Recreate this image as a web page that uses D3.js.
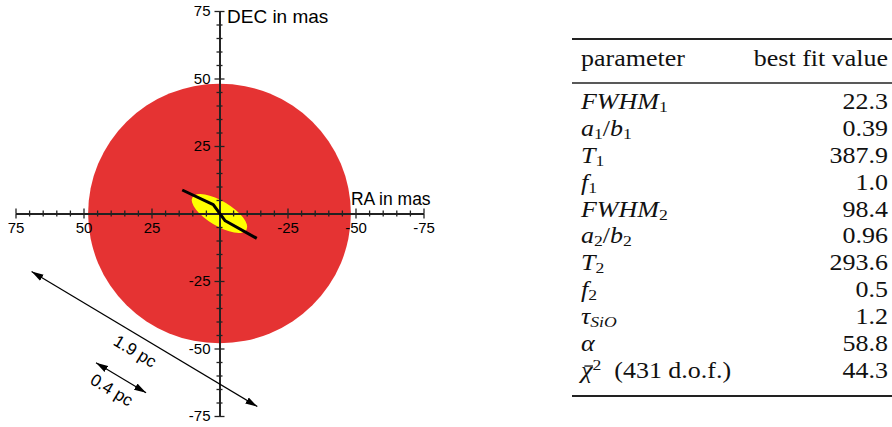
<!DOCTYPE html>
<html><head><meta charset="utf-8">
<script src="https://cdn.jsdelivr.net/npm/d3@7"></script>
<style>body{margin:0;background:#fff}svg{display:block}</style>
</head><body>
<svg id="c" width="892" height="427"></svg>
<script>
// ---- data ----
const majorTicks = [75, 50, 25, -25, -50, -75];
const minorTicks = [70,65,60,55,45,40,35,30,20,15,10,5,0,-5,-10,-15,-20,-30,-35,-40,-45,-55,-60,-65,-70];
const compNames = ["outer", "inner"];
const compSemiMajor = [48.3, 11.6];     // mas
const compAxisRatio = [0.988, 0.39];
const compPA = [90, 58.8];              // deg, N through E
const compColors = ["#e53333", "#ffff00"];
const lineRA = [13.7, 2.3, -2.1, -13.7];
const lineDEC = [8.7, 3.3, -2.7, -9.2];
const barLabels = ["1.9 pc", "0.4 pc"];
const barFromRA = [69.1, 45.4], barFromDEC = [-21.5, -55.3];
const barToRA = [-13.9, 27.0], barToDEC = [-71.5, -66.4];
const paramNames = [
  [["FWHM","i"],["1","sub"]],
  [["a","i"],["1","sub"],["/","r"],["b","i"],["1","sub"]],
  [["T","i"],["1","sub"]],
  [["f","i"],["1","sub"]],
  [["FWHM","i"],["2","sub"]],
  [["a","i"],["2","sub"],["/","r"],["b","i"],["2","sub"]],
  [["T","i"],["2","sub"]],
  [["f","i"],["2","sub"]],
  [["τ","i"],["SiO","subi"]],
  [["α","i"]],
  [["χ","ibar"],["2","sup"],["  (431 d.o.f.)","r"]]
];
const paramValues = ["22.3","0.39","387.9","1.0","98.4","0.96","293.6","0.5","1.2","58.8","44.3"];
const header = ["parameter", "best fit value"];

// ---- chart ----
const svg = d3.select("#c");
const x = d3.scaleLinear().domain([75, -75]).range([15.5, 423.5]);
const y = d3.scaleLinear().domain([75, -75]).range([11, 416]);
const k = Math.abs(x(1) - x(0));
const cx = x(0), cy = y(0);

const g = svg.append("g");
compNames.forEach((n, i) => {
  g.append("ellipse")
    .attr("cx", cx).attr("cy", cy)
    .attr("rx", compSemiMajor[i] * k)
    .attr("ry", compSemiMajor[i] * compAxisRatio[i] * k)
    .attr("transform", `rotate(${90 - compPA[i]},${cx},${cy})`)
    .attr("fill", compColors[i]);
});

const axisCol = "#222";
const sans = "Liberation Sans, Arial, sans-serif";
function styleAxis(sel) {
  sel.selectAll("path.domain").attr("stroke", axisCol).attr("stroke-width", 1.3);
  sel.selectAll(".tick line").attr("stroke", axisCol).attr("stroke-width", 1.3);
  sel.selectAll(".tick text").attr("fill", "#000").style("font-family", sans).style("font-size", "15px");
}
const fmt = d => String(d);
g.append("g").attr("transform", `translate(0,${cy})`)
  .call(d3.axisBottom(x).tickValues(majorTicks).tickSize(5).tickSizeOuter(0).tickPadding(4).tickFormat(fmt)).call(styleAxis);
g.append("g").attr("transform", `translate(0,${cy})`)
  .call(d3.axisTop(x).tickValues(majorTicks).tickSize(5).tickSizeOuter(0).tickFormat("")).call(styleAxis);
g.append("g").attr("transform", `translate(0,${cy})`)
  .call(d3.axisBottom(x).tickValues(minorTicks).tickSize(3).tickSizeOuter(0).tickFormat("")).call(styleAxis);
g.append("g").attr("transform", `translate(0,${cy})`)
  .call(d3.axisTop(x).tickValues(minorTicks).tickSize(3).tickSizeOuter(0).tickFormat("")).call(styleAxis);
g.append("g").attr("transform", `translate(${cx},0)`)
  .call(d3.axisLeft(y).tickValues(majorTicks).tickSize(5).tickSizeOuter(0).tickPadding(4).tickFormat(fmt)).call(styleAxis);
g.append("g").attr("transform", `translate(${cx},0)`)
  .call(d3.axisRight(y).tickValues(majorTicks).tickSize(5).tickSizeOuter(0).tickFormat("")).call(styleAxis);
g.append("g").attr("transform", `translate(${cx},0)`)
  .call(d3.axisLeft(y).tickValues(minorTicks).tickSize(3).tickSizeOuter(0).tickFormat("")).call(styleAxis);
g.append("g").attr("transform", `translate(${cx},0)`)
  .call(d3.axisRight(y).tickValues(minorTicks).tickSize(3).tickSizeOuter(0).tickFormat("")).call(styleAxis);

const pts = lineRA.map((r, i) => [x(r), y(lineDEC[i])]);
g.append("path").attr("d", d3.line()(pts)).attr("fill", "none")
  .attr("stroke", "#000").attr("stroke-width", 3).attr("stroke-linejoin", "round");

g.append("text").attr("x", cx + 7.5).attr("y", 23).text("DEC in mas")
  .style("font-family", sans).style("font-size", "19px");
g.append("text").attr("x", x(-48.3)).attr("y", 205).text("RA in mas")
  .style("font-family", sans).style("font-size", "17.5px");

const defs = svg.append("defs");
defs.append("marker").attr("id", "ah").attr("viewBox", "0 0 12 8").attr("refX", 12).attr("refY", 4)
  .attr("markerWidth", 12).attr("markerHeight", 8).attr("markerUnits", "userSpaceOnUse").attr("orient", "auto-start-reverse")
  .append("path").attr("d", "M0,0.5 L12,4 L0,7.5 Z").attr("fill", "#000");
barLabels.forEach((lab, i) => {
  const x0 = x(barFromRA[i]), y0 = y(barFromDEC[i]);
  const x1 = x(barToRA[i]), y1 = y(barToDEC[i]);
  g.append("line").attr("x1", x0).attr("y1", y0).attr("x2", x1).attr("y2", y1)
    .attr("stroke", "#000").attr("stroke-width", 1.2)
    .attr("marker-start", "url(#ah)").attr("marker-end", "url(#ah)");
  const ang = Math.atan2(y1 - y0, x1 - x0);
  const mx = (x0 + x1) / 2, my = (y0 + y1) / 2;
  const off = 14;
  const lx = mx - Math.sin(ang) * off - 2, ly = my + Math.cos(ang) * off;
  g.append("text").attr("transform", `translate(${lx},${ly}) rotate(${ang * 180 / Math.PI})`)
    .attr("text-anchor", "middle").attr("dy", "0.35em").text(lab)
    .style("font-family", sans).style("font-size", "17px");
});

// ---- table ----
const serif = "Liberation Serif, Times New Roman, serif";
const tL = 572, tR = 892, textL = 581, textR = 888;
const fs = 23, sx = 1.13;
const lines = svg.append("g");
lines.append("line").attr("x1", tL).attr("x2", tR).attr("y1", 39).attr("y2", 39).attr("stroke", "#222").attr("stroke-width", 2);
lines.append("line").attr("x1", tL).attr("x2", tR).attr("y1", 83).attr("y2", 83).attr("stroke", "#222").attr("stroke-width", 1.4);
lines.append("line").attr("x1", tL).attr("x2", tR).attr("y1", 396).attr("y2", 396).attr("stroke", "#222").attr("stroke-width", 2);
const t = svg.append("g").attr("transform", `scale(${sx},1)`)
  .style("font-family", serif).style("font-size", fs + "px").attr("fill", "#111");
t.append("text").attr("x", textL / sx).attr("y", 66).text(header[0]);
t.append("text").attr("x", textR / sx).attr("y", 66).attr("text-anchor", "end").text(header[1]);
const rowY = d3.scaleLinear().domain([0, 10]).range([109, 378]);
paramNames.forEach((segs, i) => {
  const yy = rowY(i);
  const tx = t.append("text").attr("x", textL / sx).attr("y", yy).style("white-space", "pre");
  let shifted = 0;
  let barIdx = -1, charPos = 0;
  segs.forEach(([s, st]) => {
    const sp = tx.append("tspan").text(s);
    let target = 0;
    if (st === "sub" || st === "subi") { target = 0.13 * fs; sp.style("font-size", (0.68 * fs) + "px"); }
    if (st === "sup") { target = -0.36 * fs; sp.style("font-size", (0.68 * fs) + "px"); }
    if (st === "i" || st === "subi" || st === "ibar") sp.style("font-style", "italic");
    if (st === "ibar") barIdx = charPos;
    const dy = target - shifted;
    if (dy !== 0) sp.attr("dy", dy);
    shifted = target;
    charPos += s.length;
  });
  if (barIdx >= 0) {
    const e = tx.node().getExtentOfChar(barIdx);
    t.append("line").attr("x1", e.x + 3).attr("x2", e.x + e.width + 0.5)
      .attr("y1", yy - 0.52 * fs).attr("y2", yy - 0.52 * fs).attr("stroke", "#111").attr("stroke-width", 1.3);
  }
  t.append("text").attr("x", textR / sx).attr("y", yy).attr("text-anchor", "end").text(paramValues[i]);
});
</script>
</body></html>
